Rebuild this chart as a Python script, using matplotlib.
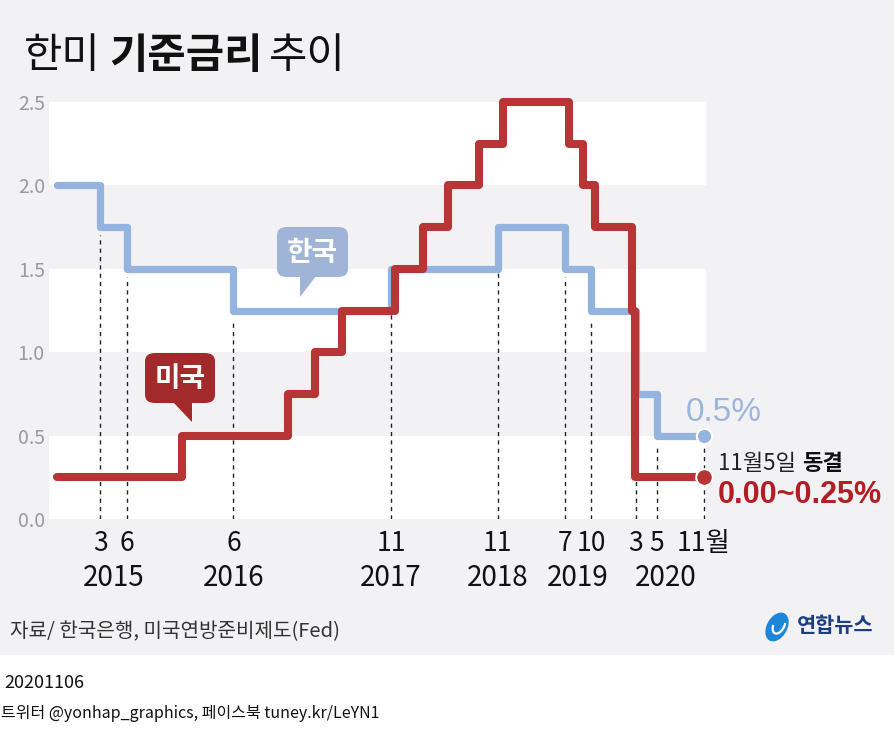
import matplotlib
matplotlib.use("Agg")
import matplotlib.pyplot as plt
from matplotlib.patches import FancyBboxPatch, Polygon, Rectangle, Ellipse, Arc
import pandas as pd

# 한국은행 기준금리 (변경일, 금리)
KR_DATES = ["2014-10-15", "2015-03-12", "2015-06-11", "2016-06-09", "2017-11-30",
            "2018-11-30", "2019-07-18", "2019-10-16", "2020-03-16", "2020-05-28",
            "2020-11-05"]
KR_RATES = [2.0, 1.75, 1.5, 1.25, 1.5, 1.75, 1.5, 1.25, 0.75, 0.5, 0.5]

# 미국 연방기금금리 상단
US_DATES = ["2014-10-15", "2015-12-16", "2016-12-14", "2017-03-15", "2017-06-14",
            "2017-12-13", "2018-03-21", "2018-06-13", "2018-09-26", "2018-12-19",
            "2019-07-31", "2019-09-18", "2019-10-30", "2020-03-03", "2020-03-15",
            "2020-11-05"]
US_RATES = [0.25, 0.5, 0.75, 1.0, 1.25, 1.5, 1.75, 2.0, 2.25, 2.5,
            2.25, 2.0, 1.75, 1.25, 0.25, 0.25]

MONTH_LABELS = ["3", "6", "6", "11", "11", "7", "10", "3", "5", "11월"]
Y_TICKS = [0.0, 0.5, 1.0, 1.5, 2.0, 2.5]
Y_LABELS = ["0.0", "0.5", "1.0", "1.5", "2.0", "2.5"]
WHITE_BANDS = [(0.0, 0.5), (1.0, 1.5), (2.0, 2.5)]

BG = "#f2f2f4"
KR_COLOR = "#94b3de"
KR_BUBBLE = "#9fb4d7"
US_COLOR = "#b83535"
US_BUBBLE = "#a32a2b"
RED_TEXT = "#b31e24"

W, H = 895, 740
NARROW = ["Liberation Sans Narrow", "Noto Sans CJK KR", "DejaVu Sans"]
KOREAN = ["Noto Sans CJK KR", "DejaVu Sans"]

plt.rcParams["font.family"] = KOREAN


def fx(x):
    return x / W


def fy(y):
    return 1 - y / H


def place_parts(fig, x, y, parts):
    # draws text pieces one after the other on the same baseline
    renderer = fig.canvas.get_renderer()
    for text, gap, kw in parts:
        t = fig.text(fx(x), fy(y), text, va="baseline", ha="left", **kw)
        bb = t.get_window_extent(renderer)
        x += bb.width + gap


def speech_bubble(fig, box, tail, color, label):
    x0, y0, x1, y1 = box
    fig.patches.append(FancyBboxPatch(
        (fx(x0), fy(y1)), fx(x1 - x0), (y1 - y0) / H,
        boxstyle="round,pad=0,rounding_size=0.011",
        transform=fig.transFigure, facecolor=color, edgecolor="none"))
    fig.patches.append(Polygon([(fx(px), fy(py)) for px, py in tail], closed=True,
                               transform=fig.transFigure, facecolor=color,
                               edgecolor="none"))
    fig.text(fx((x0 + x1) / 2), fy((y0 + y1) / 2 + 1), label, color="white",
             fontsize=20, fontweight="bold", ha="center", va="center")


def main():
    kr_dates = pd.to_datetime(KR_DATES)
    us_dates = pd.to_datetime(US_DATES)

    fig = plt.figure(figsize=(W / 100, H / 100), dpi=100, facecolor="white")
    fig.patches.append(Rectangle((0, fy(655)), 1, 1 - fy(655), transform=fig.transFigure,
                                 facecolor=BG, edgecolor="none", zorder=-10))

    ax = fig.add_axes([fx(49), fy(519), fx(706 - 49), 417 / H])
    ax.set_facecolor(BG)
    for lo, hi in WHITE_BANDS:
        ax.axhspan(lo, hi, color="white", zorder=0, lw=0)

    ax.set_xlim(pd.Timestamp("2014-09-17"), pd.Timestamp("2020-11-12"))
    ax.set_ylim(0, 2.5)
    for s in ax.spines.values():
        s.set_visible(False)

    ax.set_xticks([])
    ax.set_yticks(Y_TICKS)
    ax.set_yticklabels(Y_LABELS, family=NARROW, fontsize=14, color="#9a9a9a")
    ax.tick_params(axis="y", length=0, pad=3)

    # dashed guide lines at each Korean rate change
    for d, r in zip(kr_dates[1:], KR_RATES[1:]):
        ax.plot([d, d], [0, r - 0.05], color="#222222", lw=1.0,
                linestyle=(0, (3, 3)), zorder=1)

    ax.step(kr_dates, KR_RATES, where="post", color=KR_COLOR, lw=5.2,
            solid_joinstyle="round", solid_capstyle="round", zorder=3, clip_on=False)
    ax.step(us_dates, US_RATES, where="post", color=US_COLOR, lw=5.8,
            solid_joinstyle="round", solid_capstyle="round", zorder=4, clip_on=False)

    ax.plot(kr_dates[-1], KR_RATES[-1], "o", color=KR_COLOR, ms=11, mec="white",
            mew=1.5, zorder=5, clip_on=False)
    ax.plot(us_dates[-1], US_RATES[-1], "o", color=US_COLOR, ms=12, mec="white",
            mew=1.5, zorder=5, clip_on=False)

    # month and year labels under the axis
    trans = ax.get_xaxis_transform()
    for d, lab in zip(kr_dates[1:], MONTH_LABELS):
        ax.text(d, -0.058, lab, transform=trans, ha="center", va="center",
                fontsize=19, family=NARROW, color="#111111")
    tick_series = pd.Series(kr_dates[1:])
    for year, grp in tick_series.groupby(tick_series.dt.year):
        mid = grp.min() + (grp.max() - grp.min()) / 2
        if len(grp) > 2:
            mid = pd.Timestamp(int(grp.astype("int64").mean()))
        ax.text(mid, -0.142, str(year), transform=trans, ha="center", va="center",
                fontsize=20, family=NARROW, color="#111111")

    # title
    place_parts(fig, 24, 68, [
        ("한미", 8, dict(fontsize=30, fontweight="light", color="#111111")),
        ("기준금리", 7, dict(fontsize=30, fontweight="bold", color="#111111")),
        ("추이", 0, dict(fontsize=30, fontweight="light", color="#111111")),
    ])

    speech_bubble(fig, (277, 227, 348, 277), [(300, 276), (316, 276), (300, 297)],
                  KR_BUBBLE, "한국")
    speech_bubble(fig, (145, 353, 215, 403), [(173, 402), (192, 402), (192, 422)],
                  US_BUBBLE, "미국")

    fig.text(fx(686), fy(421), "0.5%", fontsize=24, color="#9bb5de",
             family=["Liberation Sans", "DejaVu Sans"], va="baseline")
    place_parts(fig, 718, 470, [
        ("11월5일", 6, dict(fontsize=16, color="#222222")),
        ("동결", 0, dict(fontsize=16, fontweight="bold", color="#111111")),
    ])
    fig.text(fx(718), fy(503), "0.00~0.25%", fontsize=22, fontweight="bold",
             color=RED_TEXT, family=["Liberation Sans", "DejaVu Sans"], va="baseline")

    # source and logo
    fig.text(fx(10), fy(637), "자료/ 한국은행, 미국연방준비제도(Fed)", fontsize=14.5,
             color="#333333", style="italic", va="baseline")
    fig.patches.append(Ellipse((fx(777), fy(627)), fx(21), 30 / H, angle=-20,
                               transform=fig.transFigure, facecolor="#1e86d6",
                               edgecolor="none"))
    fig.patches.append(Arc((fx(779), fy(625)), fx(11), 18 / H, angle=-20,
                           theta1=200, theta2=40, transform=fig.transFigure,
                           color="white", lw=1.6))
    fig.text(fx(797), fy(626), "연합뉴스", fontsize=15, fontweight="bold",
             color="#1d3c84", va="center")

    # footer
    fig.text(fx(4), fy(688), "20201106", fontsize=13, family=NARROW,
             color="#111111", va="baseline")
    fig.text(fx(1), fy(718), "트위터 @yonhap_graphics, 페이스북 tuney.kr/LeYN1",
             fontsize=11.5, family=NARROW, color="#111111", va="baseline")

    fig.savefig("out.png", dpi=100, facecolor="white")
    plt.close(fig)


if __name__ == "__main__":
    main()
